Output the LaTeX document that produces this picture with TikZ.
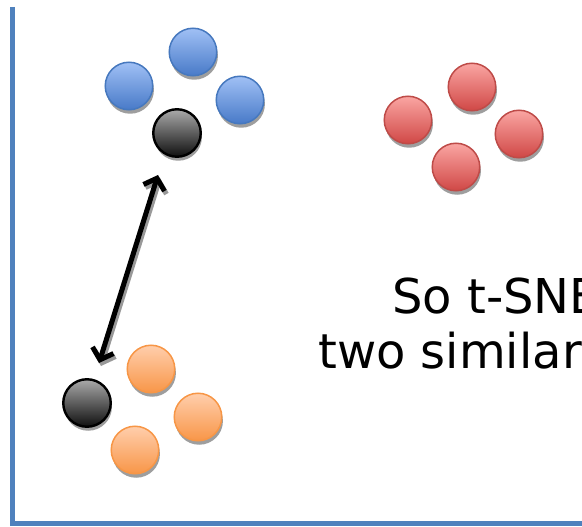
\documentclass[tikz,border=0pt]{standalone}
\usepackage{fontspec}
\setmainfont{DejaVu Sans}
\usetikzlibrary{arrows.meta,shadows}
\definecolor{axisblue}{RGB}{79,129,189}
\definecolor{bluetop}{RGB}{160,192,245}
\definecolor{bluebot}{RGB}{72,122,200}
\definecolor{blueline}{RGB}{70,120,190}
\definecolor{orangetop}{RGB}{255,206,172}
\definecolor{orangebot}{RGB}{248,150,72}
\definecolor{orangeline}{RGB}{247,150,70}
\definecolor{redtop}{RGB}{250,165,162}
\definecolor{redbot}{RGB}{208,72,70}
\definecolor{redline}{RGB}{190,75,72}
\definecolor{blacktop}{RGB}{170,170,170}
\definecolor{blackbot}{RGB}{15,15,15}
\tikzset{
  dot/.style={circle, minimum size=47.5pt, inner sep=0pt, line width=1.5pt,
    drop shadow={shadow xshift=1.2pt, shadow yshift=-4pt, fill=black!38, opacity=1}},
  bluedot/.style={dot, draw=blueline, top color=bluetop, bottom color=bluebot},
  orangedot/.style={dot, draw=orangeline, top color=orangetop, bottom color=orangebot},
  reddot/.style={dot, draw=redline, top color=redtop, bottom color=redbot},
  blackdot/.style={dot, draw=black, line width=2.4pt, top color=blacktop, bottom color=blackbot},
  axis/.style={axisblue, line width=5pt},
  dbl/.style={line width=5pt, {Straight Barb[length=10pt,width=22pt]}-{Straight Barb[length=10pt,width=22pt]}},
  lbl/.style={font=\fontsize{48}{55}\selectfont, anchor=base west, inner sep=0pt}
}
\begin{document}
\begin{tikzpicture}[x=1pt,y=-1pt]
\useasboundingbox (0,0) rectangle (582,527);
\clip (0,0) rectangle (582,527);
% axes
\coordinate (ytop) at (12.5,7);
\coordinate (orig) at (12.5,525.5);
\coordinate (xstart) at (10,523);
\coordinate (xend) at (590,523);
\draw[axis] (ytop) -- (orig);
\draw[axis] (xstart) -- (xend);
% blue cluster
\node[bluedot] (b1) at (193,52) {};
\node[bluedot] (b2) at (129,86) {};
\node[bluedot] (b3) at (240,100) {};
\node[blackdot] (k1) at (177,133) {};
% red cluster
\node[reddot] (r1) at (472,87) {};
\node[reddot] (r2) at (408,120) {};
\node[reddot] (r3) at (519,134) {};
\node[reddot] (r4) at (456,167) {};
% orange cluster
\node[orangedot] (o1) at (151,369) {};
\node[orangedot] (o2) at (198,417) {};
\node[orangedot] (o3) at (135,450) {};
\node[blackdot] (k2) at (87,403) {};
% arrow
\coordinate (a1) at (158,175);
\coordinate (a2) at (99,363);
\coordinate (s1) at (160,178);
\coordinate (s2) at (101,366);
\draw[dbl, black!40] (s1) -- (s2);
\draw[dbl, black] (a1) -- (a2);
% text
\node[lbl] (t1) at (392,313) {So t-SNE};
\node[lbl] (t2) at (318,368) {two similar};
\end{tikzpicture}
\end{document}
